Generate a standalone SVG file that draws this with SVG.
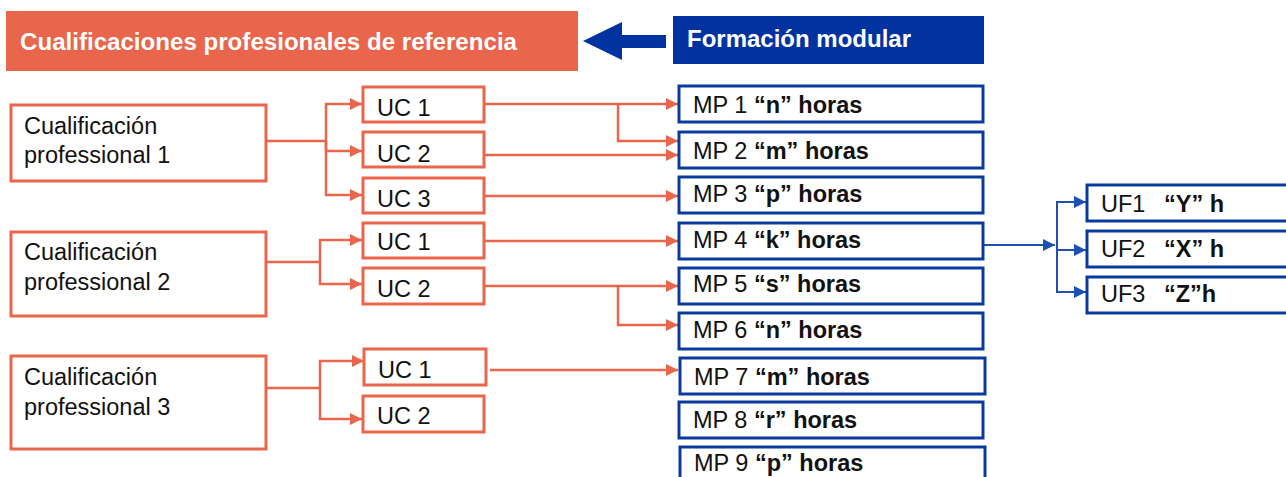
<svg xmlns="http://www.w3.org/2000/svg" width="1286" height="477" viewBox="0 0 1286 477">
<defs>
<style>
.t{font-family:"Liberation Sans",Arial,sans-serif;font-size:23.5px;fill:#111}
.b{font-weight:bold}
.ob{fill:#fff;stroke:#E9654B;stroke-width:3}
.bb{fill:#fff;stroke:#0A3A9E;stroke-width:3}
.oc{fill:none;stroke:#E9654B;stroke-width:2.5;marker-end:url(#ao)}
.ol{fill:none;stroke:#E9654B;stroke-width:2.5}
.bc{fill:none;stroke:#1F4FB0;stroke-width:2;marker-end:url(#ab)}
.bl{fill:none;stroke:#1F4FB0;stroke-width:2}
</style>
<marker id="ao" markerUnits="userSpaceOnUse" markerWidth="14" markerHeight="14" refX="12" refY="6" orient="auto"><path d="M0 0 L12 6 L0 12 Z" fill="#E9654B"/></marker>
<marker id="ab" markerUnits="userSpaceOnUse" markerWidth="14" markerHeight="14" refX="12" refY="6" orient="auto"><path d="M0 0 L12 6 L0 12 Z" fill="#1F4FB0"/></marker>
</defs>
<rect width="1286" height="477" fill="#fff"/>

<g id="header-cualificaciones">
<rect x="6" y="11" width="572" height="60" fill="#E9654B"/>
<text x="20" y="50" class="t b" style="fill:#fff;font-size:24px" textLength="497" lengthAdjust="spacingAndGlyphs">Cualificaciones profesionales de referencia</text>
</g>
<g id="header-arrow">
<path d="M583 41 L622 22 L622 35 L666 35 L666 48 L622 48 L622 60 Z" fill="#0033A0"/>
</g>
<g id="header-formacion">
<rect x="673" y="16" width="311" height="48" fill="#0033A0"/>
<text x="687" y="47" class="t b" style="fill:#fff;font-size:24px">Formación modular</text>
</g>

<g id="connectors">
<path class="ol" d="M266 141 H326"/>
<path class="oc" d="M326 141 V104 H362"/>
<path class="oc" d="M326 141 V151 H362"/>
<path class="oc" d="M326 141 V195 H362"/>
<path class="ol" d="M266 262 H320"/>
<path class="oc" d="M320 262 V240 H362"/>
<path class="oc" d="M320 262 V284 H362"/>
<path class="ol" d="M266 388 H320"/>
<path class="oc" d="M320 388 V361 H364"/>
<path class="oc" d="M320 388 V419 H362"/>
<path class="oc" d="M484 104 H678"/>
<path class="oc" d="M618 104 V141 H678"/>
<path class="oc" d="M484 155 H678"/>
<path class="oc" d="M484 196 H678"/>
<path class="oc" d="M484 241 H678"/>
<path class="oc" d="M484 286 H678"/>
<path class="oc" d="M618 286 V325 H678"/>
<path class="oc" d="M490 370 H678"/>
<path class="bc" d="M983 245 H1055"/>
<path class="bl" d="M1057 202 V292"/>
<path class="bc" d="M1056 202 H1086"/>
<path class="bc" d="M1056 250 H1086"/>
<path class="bc" d="M1056 292 H1086"/>
</g>

<g id="cp1"><rect class="ob" x="11" y="105" width="255" height="76"/><text class="t" x="24" y="134">Cualificación</text><text class="t" x="24" y="163">professional 1</text></g>
<g id="cp2"><rect class="ob" x="11" y="232" width="255" height="84"/><text class="t" x="24" y="260">Cualificación</text><text class="t" x="24" y="290">professional 2</text></g>
<g id="cp3"><rect class="ob" x="11" y="356" width="255" height="93"/><text class="t" x="24" y="385">Cualificación</text><text class="t" x="24" y="415">professional 3</text></g>

<g id="cp1-uc1"><rect class="ob" x="363" y="87" width="121" height="35"/><text class="t" x="377" y="116">UC 1</text></g>
<g id="cp1-uc2"><rect class="ob" x="363" y="132" width="121" height="35"/><text class="t" x="377" y="162">UC 2</text></g>
<g id="cp1-uc3"><rect class="ob" x="363" y="178" width="121" height="35"/><text class="t" x="377" y="207">UC 3</text></g>
<g id="cp2-uc1"><rect class="ob" x="363" y="223" width="121" height="35"/><text class="t" x="377" y="250">UC 1</text></g>
<g id="cp2-uc2"><rect class="ob" x="363" y="268" width="121" height="36"/><text class="t" x="377" y="297">UC 2</text></g>
<g id="cp3-uc1"><rect class="ob" x="364" y="349" width="122" height="36"/><text class="t" x="378" y="378">UC 1</text></g>
<g id="cp3-uc2"><rect class="ob" x="363" y="396" width="121" height="36"/><text class="t" x="377" y="424">UC 2</text></g>

<g id="mp1"><rect class="bb" x="679" y="86" width="304" height="36"/><text class="t" x="693" y="113">MP 1 <tspan class="b">“n” horas</tspan></text></g>
<g id="mp2"><rect class="bb" x="679" y="132" width="304" height="36"/><text class="t" x="693" y="159">MP 2 <tspan class="b">“m” horas</tspan></text></g>
<g id="mp3"><rect class="bb" x="679" y="177" width="304" height="36"/><text class="t" x="693" y="202">MP 3 <tspan class="b">“p” horas</tspan></text></g>
<g id="mp4"><rect class="bb" x="679" y="223" width="304" height="36"/><text class="t" x="693" y="248">MP 4 <tspan class="b">“k” horas</tspan></text></g>
<g id="mp5"><rect class="bb" x="679" y="268" width="304" height="36"/><text class="t" x="693" y="292">MP 5 <tspan class="b">“s” horas</tspan></text></g>
<g id="mp6"><rect class="bb" x="679" y="313" width="304" height="36"/><text class="t" x="693" y="338">MP 6 <tspan class="b">“n” horas</tspan></text></g>
<g id="mp7"><rect class="bb" x="680" y="358" width="305" height="36"/><text class="t" x="694" y="385">MP 7 <tspan class="b">“m” horas</tspan></text></g>
<g id="mp8"><rect class="bb" x="679" y="402" width="304" height="36"/><text class="t" x="693" y="428">MP 8 <tspan class="b">“r” horas</tspan></text></g>
<g id="mp9"><rect class="bb" x="680" y="447" width="305" height="36"/><text class="t" x="694" y="471">MP 9 <tspan class="b">“p” horas</tspan></text></g>

<g id="uf1"><rect class="bb" x="1087" y="185" width="210" height="36"/><text class="t" x="1101" y="212">UF1<tspan class="b" x="1164">“Y” h</tspan></text></g>
<g id="uf2"><rect class="bb" x="1087" y="231" width="210" height="36"/><text class="t" x="1101" y="257">UF2<tspan class="b" x="1164">“X” h</tspan></text></g>
<g id="uf3"><rect class="bb" x="1087" y="277" width="210" height="36"/><text class="t" x="1101" y="302">UF3<tspan class="b" x="1164">“Z”h</tspan></text></g>
</svg>
